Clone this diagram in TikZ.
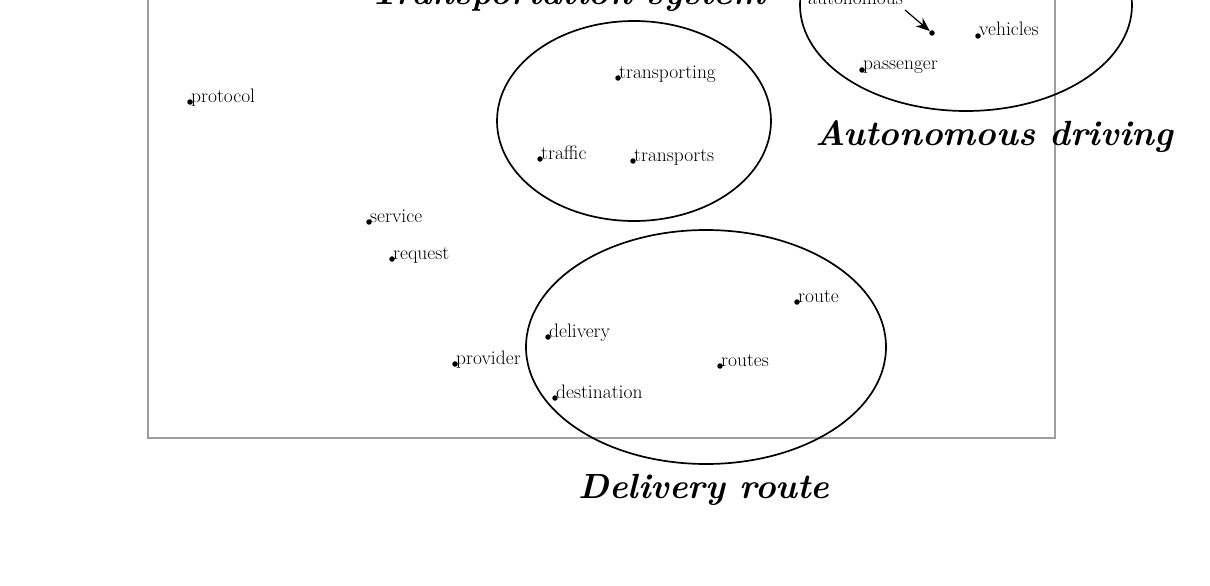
\documentclass[tikz,border=0pt]{standalone}
\usetikzlibrary{arrows.meta}
\begin{document}
\begin{tikzpicture}[x=1pt,y=-1pt,
  pt/.style={circle,fill=black,inner sep=0pt,minimum size=5.5pt},
  word/.style={anchor=base west,inner sep=0pt,font=\fontsize{19.5}{21}\selectfont},
  title/.style={anchor=base,inner sep=0pt,font=\fontsize{35}{38}\selectfont\bfseries\itshape},
  cluster/.style={draw=black,line width=1.7pt},
  frame/.style={draw=black!38,line width=1.2pt}]
\useasboundingbox (0,0) rectangle (1210,586);
\clip (0,0) rectangle (1210,586);
% frame
\draw[frame] (148,-20) rectangle (1055,438);
% clusters
\draw[cluster] (634,121) ellipse [x radius=137, y radius=100];
\draw[cluster] (966,5) ellipse [x radius=166, y radius=106];
\draw[cluster] (706,347) ellipse [x radius=180, y radius=117];
% titles
\node[title] (tTrans) at (568,5) {Transportation system};
\node[title] (tAuto) at (994,145) {Autonomous driving};
\node[title] (tDeliv) at (704,498) {Delivery route};
% points
\node[pt] (protocol) at (190,102) {};
\node[pt] (service) at (369,222) {};
\node[pt] (request) at (392,259) {};
\node[pt] (transporting) at (618,78) {};
\node[pt] (traffic) at (540,159) {};
\node[pt] (transports) at (633,161) {};
\node[pt] (provider) at (455,364) {};
\node[pt] (delivery) at (548,337) {};
\node[pt] (destination) at (555,398) {};
\node[pt] (routes) at (720,366) {};
\node[pt] (route) at (797,302) {};
\node[pt] (auto) at (932,33) {};
\node[pt] (vehicles) at (978,36) {};
\node[pt] (passenger) at (862,70) {};
% labels
\node[word] (lprotocol) at ([xshift=1pt]protocol.center) {protocol};
\node[word] (lservice) at ([xshift=1pt]service.center) {service};
\node[word] (lrequest) at ([xshift=1pt]request.center) {request};
\node[word] (ltransporting) at ([xshift=1pt]transporting.center) {transporting};
\node[word] (ltraffic) at ([xshift=1pt]traffic.center) {traffic};
\node[word] (ltransports) at ([xshift=1pt]transports.center) {transports};
\node[word] (lprovider) at ([xshift=1pt]provider.center) {provider};
\node[word] (ldelivery) at ([xshift=1pt]delivery.center) {delivery};
\node[word] (ldestination) at ([xshift=1pt]destination.center) {destination};
\node[word] (lroutes) at ([xshift=1pt]routes.center) {routes};
\node[word] (lroute) at ([xshift=1pt]route.center) {route};
\node[word] (lvehicles) at ([xshift=1pt]vehicles.center) {vehicles};
\node[word] (lpassenger) at ([xshift=1pt]passenger.center) {passenger};
\node[word] (lauto) at (808,5) {autonomous};
\coordinate (arrstart) at (905,10);
\draw[line width=1.2pt,-{Stealth[length=14pt,width=11pt]}] (arrstart) -- (auto);
\end{tikzpicture}
\end{document}
